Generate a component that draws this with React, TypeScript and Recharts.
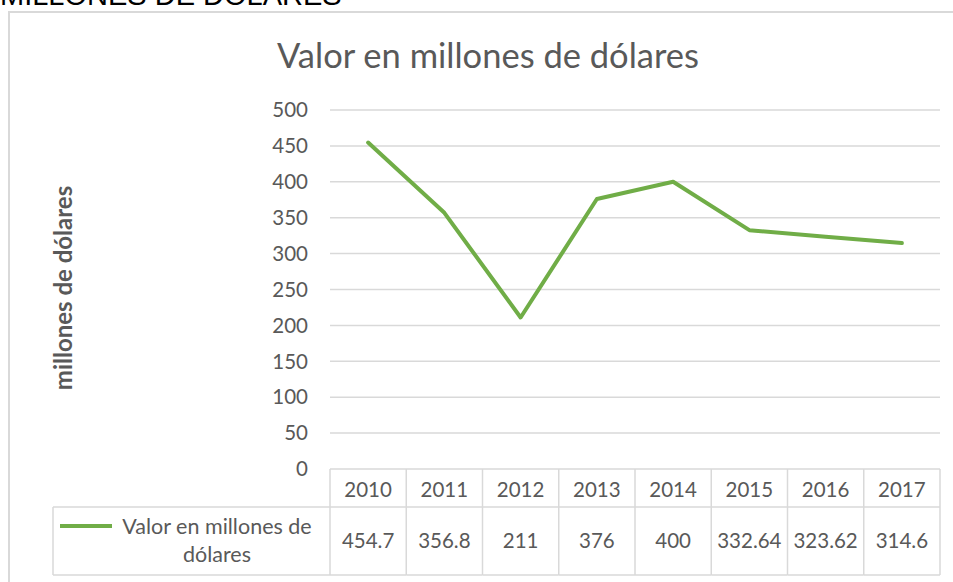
import { CartesianGrid, Line, LineChart, XAxis, YAxis } from "recharts";

const YEARS = ["2010", "2011", "2012", "2013", "2014", "2015", "2016", "2017"];
const VALUES = [454.7, 356.8, 211, 376, 400, 332.64, 323.62, 314.6];
const Y_TICKS = [0, 50, 100, 150, 200, 250, 300, 350, 400, 450, 500];
const LEGEND_LINES = ["Valor en millones de", "dólares"];
const TITLE = "Valor en millones de dólares";
const Y_LABEL = "millones de dólares";
const PAGE_HEADING = "MILLONES DE DÓLARES";

const data = YEARS.map((year, i) => ({ year, value: VALUES[i] }));

const GREEN = "#70ad47";
const GRID = "#d9d9d9";
const TEXT = "#595959";
const FONT = "Lato, 'Noto Sans', sans-serif";

const W = 953;
const H = 582;
const PLOT_LEFT = 330;
const PLOT_RIGHT = 940;
const BAND = (PLOT_RIGHT - PLOT_LEFT) / YEARS.length;
const HEADER_H = 38;
const ROW_H = 68;
const LEGEND_LEFT = 53;
const TABLE_FONT = 20.5;

/** One column of the Excel-style data table under the plot: year + value. */
function TableTick(props: any) {
  const { x, y, payload } = props;
  const i = payload.index;
  const left = x - BAND / 2;
  const headBottom = y + HEADER_H;
  const rowBottom = headBottom + ROW_H;
  const last = i === YEARS.length - 1;
  return (
    <g>
      <line x1={left} y1={y} x2={left} y2={rowBottom} stroke={GRID} strokeWidth={1.5} />
      {last && (
        <line x1={left + BAND} y1={y} x2={left + BAND} y2={rowBottom} stroke={GRID} strokeWidth={1.5} />
      )}
      <line x1={left} y1={headBottom} x2={left + BAND} y2={headBottom} stroke={GRID} strokeWidth={1.5} />
      <line x1={left} y1={rowBottom} x2={left + BAND} y2={rowBottom} stroke={GRID} strokeWidth={1.5} />
      <text x={x} y={y + HEADER_H / 2 + 1} textAnchor="middle" dominantBaseline="central" fill={TEXT} fontSize={TABLE_FONT} fontFamily={FONT}>
        {payload.value}
      </text>
      <text x={x} y={headBottom + ROW_H / 2 - 1} textAnchor="middle" dominantBaseline="central" fill={TEXT} fontSize={TABLE_FONT} fontFamily={FONT}>
        {String(VALUES[i])}
      </text>
      {i === 0 && (
        <g>
          <line x1={LEGEND_LEFT} y1={headBottom} x2={left} y2={headBottom} stroke={GRID} strokeWidth={1.5} />
          <line x1={LEGEND_LEFT} y1={rowBottom} x2={left} y2={rowBottom} stroke={GRID} strokeWidth={1.5} />
          <line x1={LEGEND_LEFT} y1={headBottom} x2={LEGEND_LEFT} y2={rowBottom} stroke={GRID} strokeWidth={1.5} />
          <line x1={60} y1={headBottom + 19} x2={112} y2={headBottom + 19} stroke={GREEN} strokeWidth={4} />
          {LEGEND_LINES.map((t, k) => (
            <text
              key={t}
              x={217}
              y={headBottom + 19 + k * 28}
              textAnchor="middle"
              dominantBaseline="central"
              fill={TEXT}
              fontSize={21.5}
              fontFamily={FONT}
            >
              {t}
            </text>
          ))}
        </g>
      )}
    </g>
  );
}

export default function App() {
  return (
    <div style={{ position: "absolute", left: 0, top: 0, width: W, height: H, overflow: "hidden", background: "#fff" }}>
      <div
        style={{
          position: "absolute",
          left: 0,
          top: -19,
          fontFamily: "'Liberation Sans', Arial, sans-serif",
          fontSize: 29,
          lineHeight: "29px",
          color: "#000",
          whiteSpace: "nowrap",
        }}
      >
        {PAGE_HEADING}
      </div>
      <div
        style={{
          position: "absolute",
          left: 8,
          top: 11,
          width: 980,
          height: 620,
          border: `2px solid ${GRID}`,
        }}
      />
      <div
        style={{
          position: "absolute",
          left: 0,
          width: 976,
          top: 34,
          textAlign: "center",
          fontFamily: FONT,
          fontSize: 34.5,
          color: TEXT,
          whiteSpace: "nowrap",
        }}
      >
        {TITLE}
      </div>
      <div style={{ position: "absolute", left: 0, top: 0 }}>
        <LineChart width={W} height={H} data={data} margin={{ top: 110, right: W - PLOT_RIGHT, bottom: 0, left: 8 }}>
          <CartesianGrid vertical={false} stroke={GRID} strokeWidth={1.5} />
          <XAxis
            dataKey="year"
            axisLine={false}
            tickLine={false}
            tickSize={0}
            tickMargin={0}
            height={113}
            interval={0}
            padding={{ left: BAND / 2, right: BAND / 2 }}
            tick={<TableTick />}
          />
          <YAxis
            domain={[0, 500]}
            ticks={Y_TICKS}
            axisLine={false}
            tickLine={false}
            tickSize={0}
            tickMargin={22}
            width={PLOT_LEFT - 8}
            tick={{ fill: TEXT, fontSize: TABLE_FONT, fontFamily: FONT }}
            label={{
              content: () => (
                <text
                  x={62}
                  y={288}
                  transform="rotate(-90 62 288)"
                  textAnchor="middle"
                  dominantBaseline="central"
                  fill={TEXT}
                  fontSize={24}
                  fontWeight="bold"
                  fontFamily={FONT}
                >
                  {Y_LABEL}
                </text>
              ),
            }}
          />
          <Line
            type="linear"
            dataKey="value"
            stroke={GREEN}
            strokeWidth={4}
            strokeLinejoin="round"
            strokeLinecap="round"
            dot={false}
            activeDot={false}
            isAnimationActive={false}
          />
        </LineChart>
      </div>
    </div>
  );
}
